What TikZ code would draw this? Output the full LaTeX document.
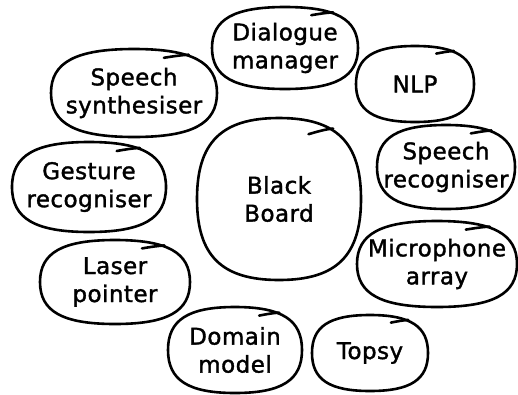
\documentclass[tikz,border=0pt]{standalone}
\usepackage{fontspec}
\newfontfamily\bubblefont[LetterSpace=2,FakeBold=1.5]{DejaVu Sans}

\tikzset{
  bubbleline/.style={line width=2.6pt, line cap=round, line join=round},
  boxtext/.style={align=center, inner sep=0pt, font=\bubblefont\fontsize{23}{28}\selectfont}
}

% bubble: name, x, y, half width, half height, text
\newcommand{\bubble}[6]{%
  \node[boxtext] (#1) at (#2,#3) {#6};
  \draw[bubbleline, shift={(#2,#3)}]
    (0,-#5) .. controls ({0.7*#4},-#5) and (#4,{-0.7*#5}) .. (#4,0)
    .. controls (#4,{0.7*#5}) and ({0.7*#4},#5) .. (0,#5)
    .. controls ({-0.7*#4},#5) and (-#4,{0.7*#5}) .. (-#4,0)
    .. controls (-#4,{-0.7*#5}) and ({-0.7*#4},-#5) .. cycle;
  \draw[bubbleline, shift={(#2,#3)}]
    ({0.36*#4},{-0.8*#5}) .. controls ({0.46*#4},{-0.83*#5}) and ({0.56*#4},{-0.86*#5}) .. ({0.66*#4},{-0.87*#5});
}

\begin{document}
\begin{tikzpicture}[x=1pt, y=-1pt]
  \useasboundingbox (0,0) rectangle (518,394);

  % Draw the blackboard in the middle
  \bubble{board}{279}{199}{82}{81}{Black\\Board}

  % Draw the modules round it
  \bubble{dialogue}{285}{48}{73}{41}{Dialogue\\manager}
  \bubble{nlp}{415}{84}{59}{38}{NLP}
  \bubble{synth}{134}{93}{83}{44}{Speech\\synthesiser}
  \bubble{gesture}{89}{187}{77}{45}{Gesture\\recogniser}
  \bubble{recog}{446}{167}{69}{42}{Speech\\recogniser}
  \bubble{mic}{437}{264}{80}{43}{Microphone\\array}
  \bubble{laser}{115}{282}{75}{42}{Laser\\pointer}
  \bubble{domain}{235}{350}{67}{43}{Domain\\model}
  \bubble{topsy}{370}{353}{58}{38}{Topsy}
\end{tikzpicture}
\end{document}
